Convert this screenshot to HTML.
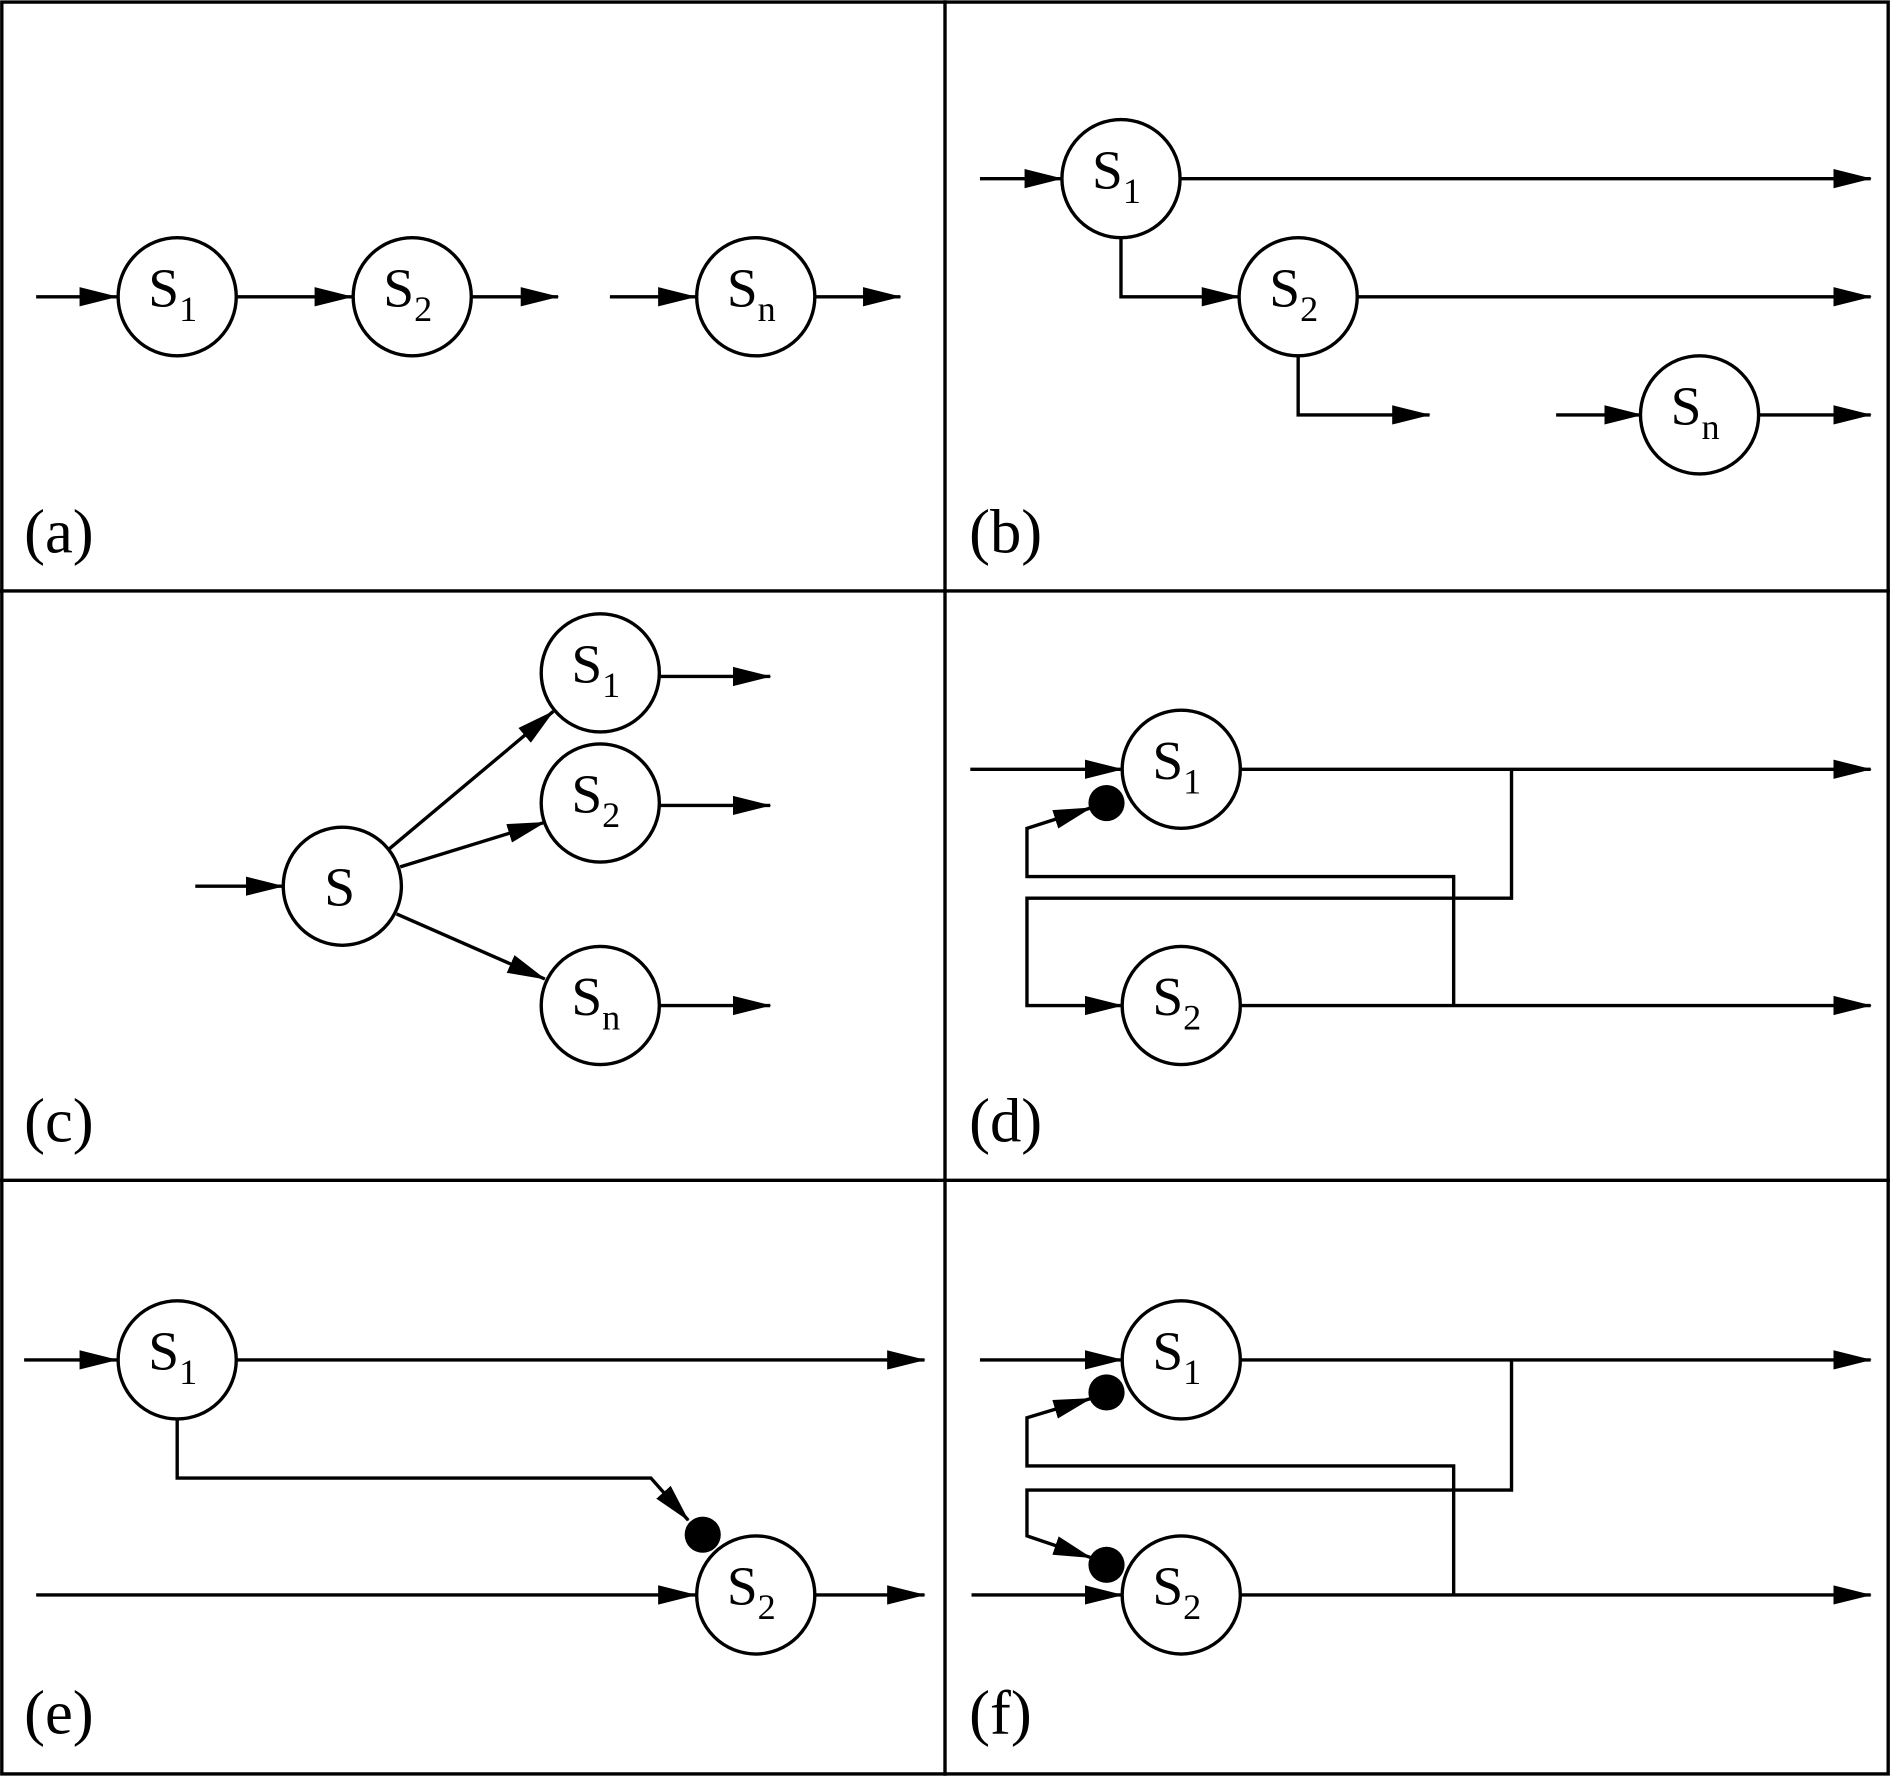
<!DOCTYPE html>
<html><head><meta charset="utf-8"><style>
html,body{margin:0;padding:0;background:#fff}
svg{display:block}
text{font-family:"Liberation Serif",serif;fill:#000}
</style></head><body>
<svg width="1890" height="1776" viewBox="0 0 1568 1473" xmlns="http://www.w3.org/2000/svg">
<defs>
<marker id="a" markerWidth="32" markerHeight="18" refX="31" refY="9" orient="auto" markerUnits="userSpaceOnUse">
<path d="M0,1 L32,9 L0,17 Z" fill="#000"/></marker>
</defs>
<g fill="none" stroke="#000" stroke-width="2.8">
<rect x="1.5" y="1.5" width="1565" height="1470"/>
<line x1="784" y1="0" x2="784" y2="1473"/>
<line x1="0" y1="490" x2="1568" y2="490"/>
<line x1="0" y1="979" x2="1568" y2="979"/>
</g>
<g fill="none" stroke="#000" stroke-width="2.8" marker-end="url(#a)">
<line x1="30" y1="246" x2="97" y2="246"/>
<line x1="196" y1="246" x2="292" y2="246"/>
<line x1="391" y1="246" x2="463" y2="246"/>
<line x1="506" y1="246" x2="577" y2="246"/>
<line x1="676" y1="246" x2="747" y2="246"/>
<line x1="813" y1="148" x2="881" y2="148"/>
<line x1="979" y1="148" x2="1552" y2="148"/>
<polyline points="930,197 930,246 1028,246"/>
<line x1="1126" y1="246" x2="1552" y2="246"/>
<polyline points="1077,295 1077,344 1186,344"/>
<line x1="1291" y1="344" x2="1362" y2="344"/>
<line x1="1459" y1="344" x2="1552" y2="344"/>
<line x1="162" y1="735" x2="235" y2="735"/>
<line x1="323" y1="704" x2="459" y2="590"/>
<line x1="332" y1="719" x2="452" y2="682"/>
<line x1="329" y1="758" x2="452" y2="812"/>
<line x1="548" y1="561" x2="639" y2="561"/>
<line x1="548" y1="668" x2="639" y2="668"/>
<line x1="548" y1="834" x2="639" y2="834"/>
<line x1="805" y1="638" x2="931" y2="638"/>
<line x1="1029" y1="638" x2="1552" y2="638"/>
<line x1="1029" y1="834" x2="1552" y2="834"/>
<polyline points="1254,638 1254,745 852,745 852,834 931,834"/>
<polyline points="1206,834 1206,727 852,727 852,687 905,670"/>
<line x1="20" y1="1128" x2="97" y2="1128"/>
<line x1="196" y1="1128" x2="767" y2="1128"/>
<polyline points="147,1177 147,1226 540,1226 571,1261"/>
<line x1="30" y1="1323" x2="577" y2="1323"/>
<line x1="676" y1="1323" x2="767" y2="1323"/>
<line x1="813" y1="1128" x2="931" y2="1128"/>
<line x1="806" y1="1323" x2="931" y2="1323"/>
<line x1="1029" y1="1128" x2="1552" y2="1128"/>
<line x1="1029" y1="1323" x2="1552" y2="1323"/>
<polyline points="1254,1128 1254,1236 852,1236 852,1274 905,1292"/>
<polyline points="1206,1323 1206,1216 852,1216 852,1176 905,1160"/>
</g>
<g fill="#fff" stroke="#000" stroke-width="2.8">
<circle cx="147" cy="246" r="49"/><circle cx="342" cy="246" r="49"/><circle cx="627" cy="246" r="49"/>
<circle cx="930" cy="148" r="49"/><circle cx="1077" cy="246" r="49"/><circle cx="1410" cy="344" r="49"/>
<circle cx="284" cy="735" r="49"/><circle cx="498" cy="558" r="49"/><circle cx="498" cy="666" r="49"/><circle cx="498" cy="834" r="49"/>
<circle cx="980" cy="638" r="49"/><circle cx="980" cy="834" r="49"/>
<circle cx="147" cy="1128" r="49"/><circle cx="627" cy="1323" r="49"/>
<circle cx="980" cy="1128" r="49"/><circle cx="980" cy="1323" r="49"/>
</g>
<g fill="#000">
<circle cx="918" cy="666" r="15"/><circle cx="583" cy="1273" r="15"/>
<circle cx="918" cy="1155" r="15"/><circle cx="918" cy="1298" r="15"/>
</g>
<g font-size="46">
<text x="123" y="254">S<tspan font-size="30" dy="12">1</tspan></text>
<text x="318" y="254">S<tspan font-size="30" dy="12">2</tspan></text>
<text x="603" y="254">S<tspan font-size="30" dy="12">n</tspan></text>
<text x="906" y="156">S<tspan font-size="30" dy="12">1</tspan></text>
<text x="1053" y="254">S<tspan font-size="30" dy="12">2</tspan></text>
<text x="1386" y="352">S<tspan font-size="30" dy="12">n</tspan></text>
<text x="269" y="751">S</text>
<text x="474" y="566">S<tspan font-size="30" dy="12">1</tspan></text>
<text x="474" y="674">S<tspan font-size="30" dy="12">2</tspan></text>
<text x="474" y="842">S<tspan font-size="30" dy="12">n</tspan></text>
<text x="956" y="646">S<tspan font-size="30" dy="12">1</tspan></text>
<text x="956" y="842">S<tspan font-size="30" dy="12">2</tspan></text>
<text x="123" y="1136">S<tspan font-size="30" dy="12">1</tspan></text>
<text x="603" y="1331">S<tspan font-size="30" dy="12">2</tspan></text>
<text x="956" y="1136">S<tspan font-size="30" dy="12">1</tspan></text>
<text x="956" y="1331">S<tspan font-size="30" dy="12">2</tspan></text>
</g>
<g font-size="52">
<text x="20" y="458">(a)</text>
<text x="804" y="458">(b)</text>
<text x="20" y="947">(c)</text>
<text x="804" y="947">(d)</text>
<text x="20" y="1438">(e)</text>
<text x="804" y="1438">(f)</text>
</g>
</svg>
</body></html>
